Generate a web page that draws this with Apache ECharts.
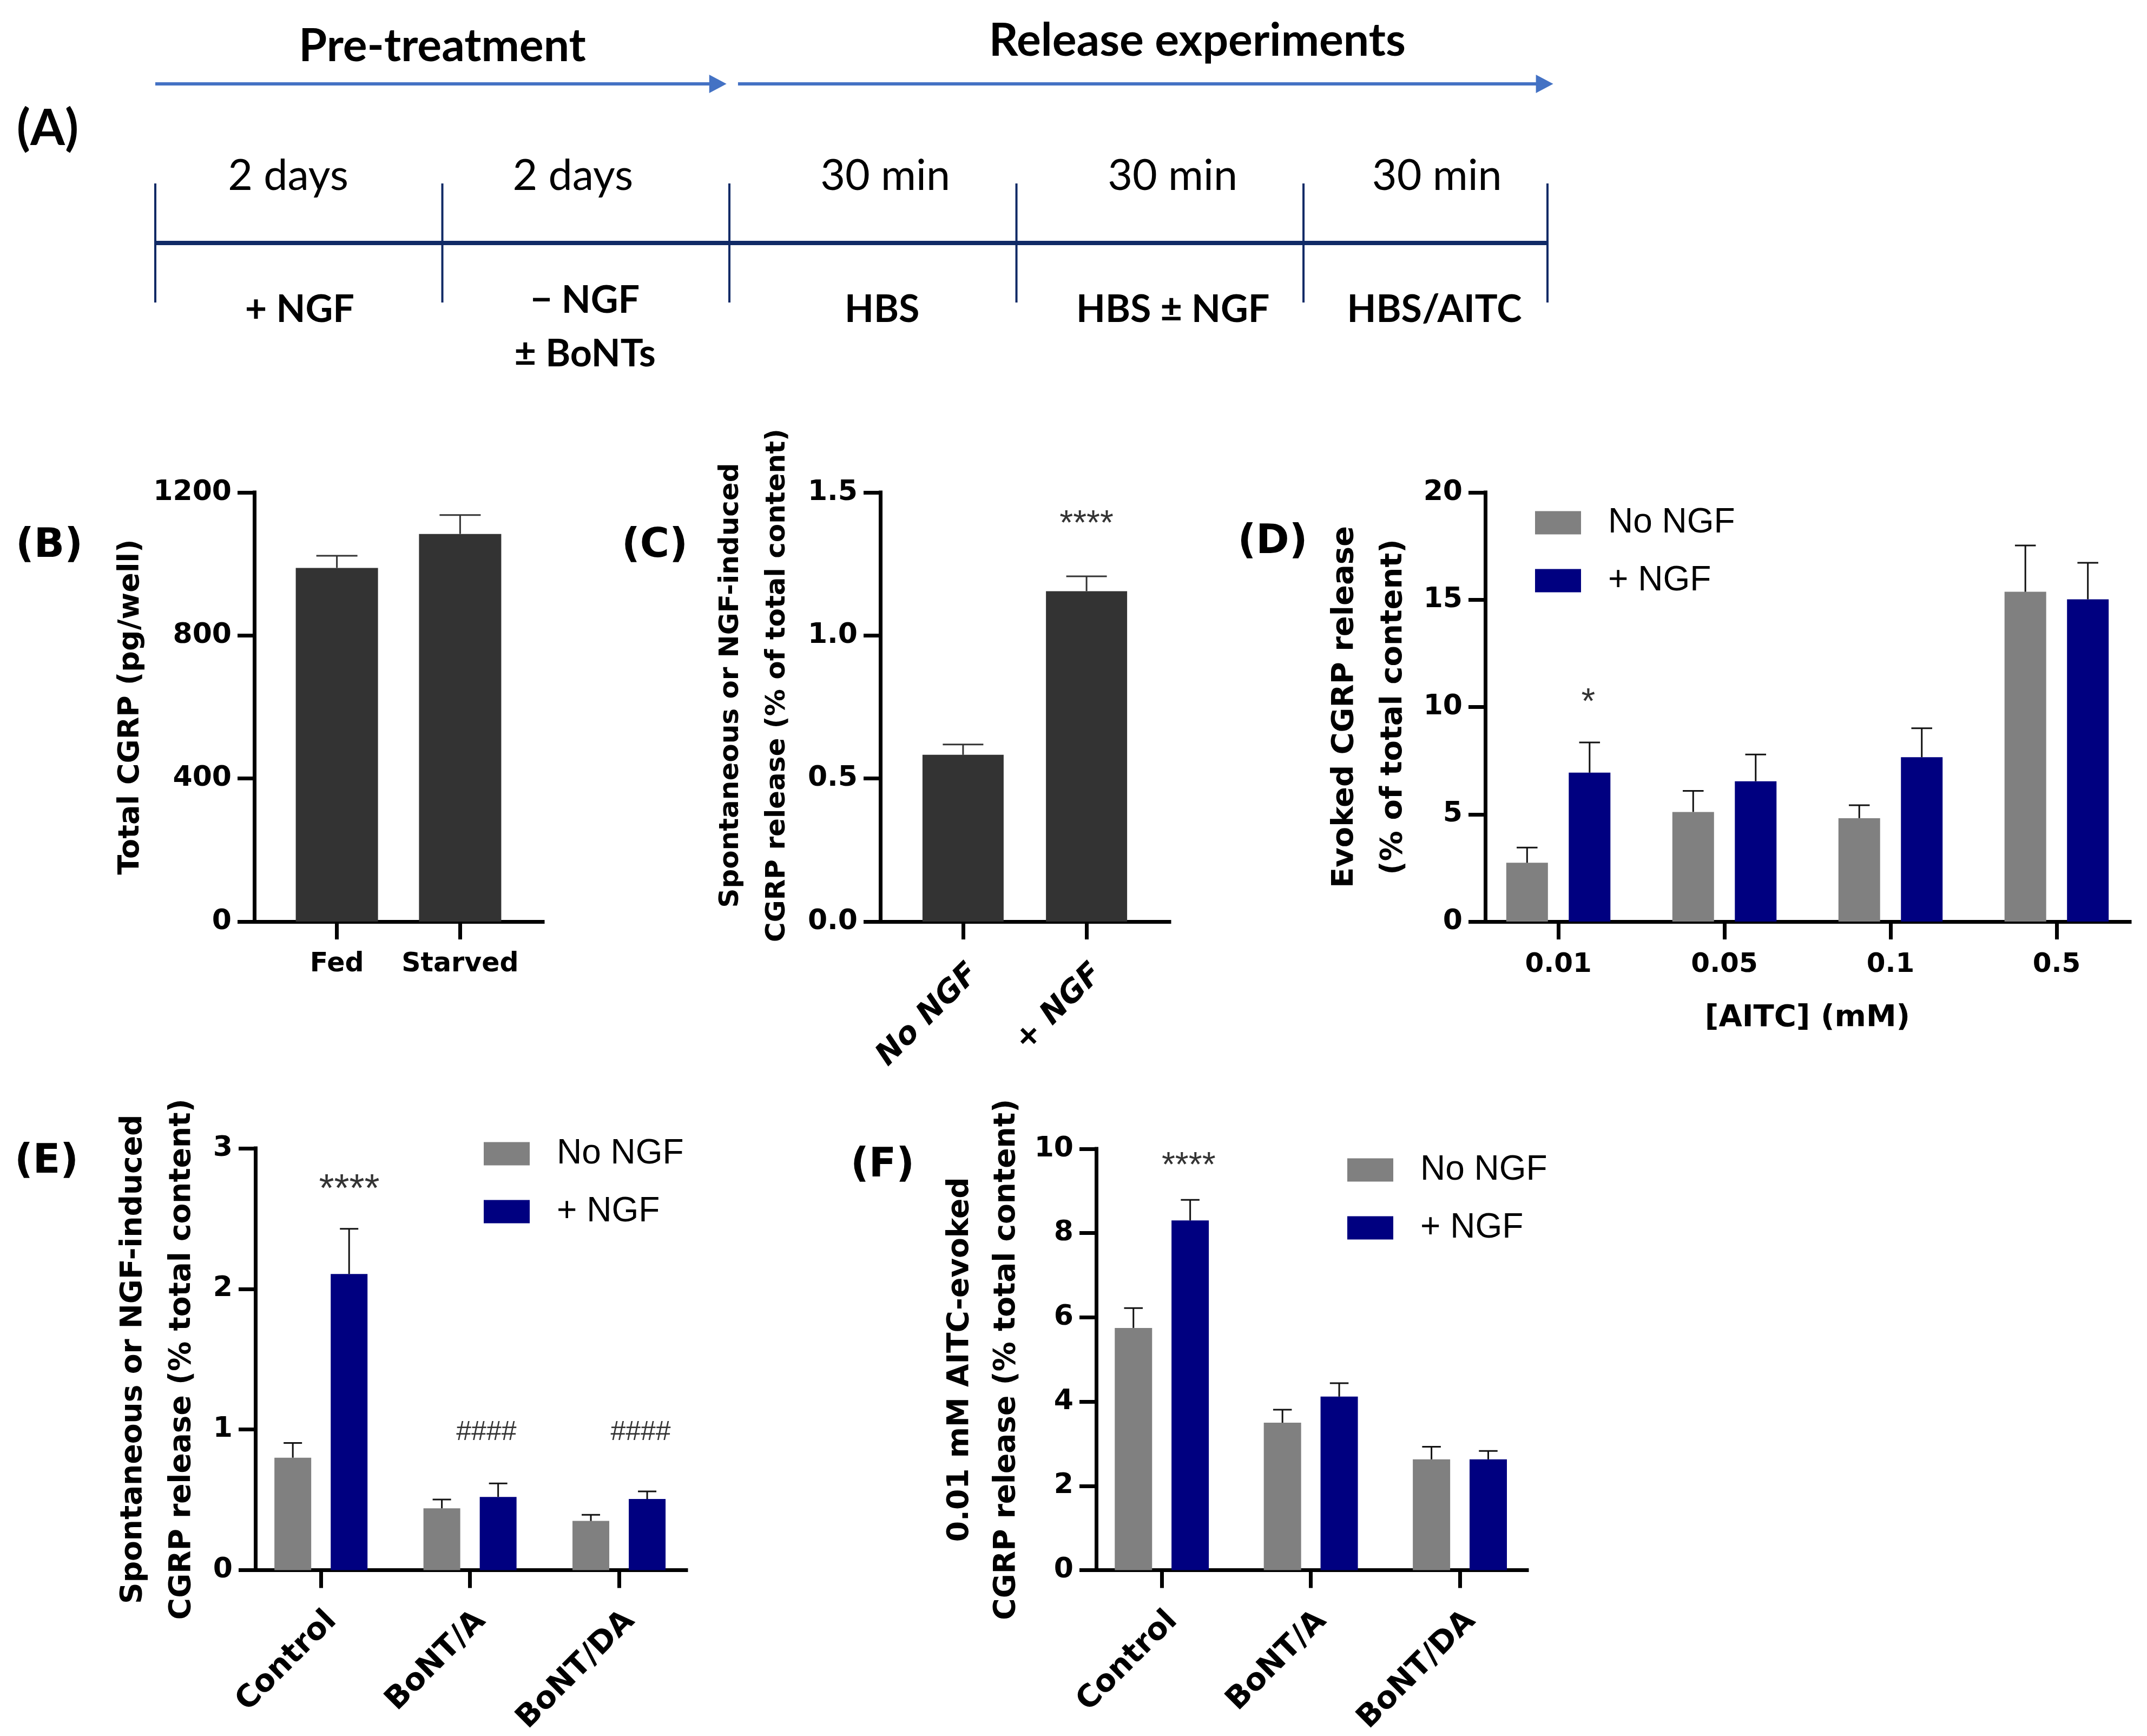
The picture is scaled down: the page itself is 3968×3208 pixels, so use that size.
<!DOCTYPE html>
<html>
<head>
<meta charset="utf-8">
<script src="https://cdn.jsdelivr.net/npm/echarts@6/dist/echarts.min.js"></script>
<style>
html,body{margin:0;padding:0;background:#ffffff;}
#chart{width:3968px;height:3208px;}
</style>
</head>
<body>
<div id="chart"></div>
<script>
// ---------------- Panel A (timeline schematic) ----------------
const phaseNames = ['Pre-treatment', 'Release experiments'];
const phaseStart = [0, 2.03];
const phaseEnd = [1.99, 4.87];
const phaseLabelAt = [1.0, 3.63];
const timelineTicks = [0, 1, 2, 3, 4, 4.85];
const durations = ['2 days', '2 days', '30 min', '30 min', '30 min'];
const durationAt = [0.463, 1.455, 2.543, 3.544, 4.465];
const treatments = ['+ NGF', '\u2212 NGF\n\u00b1 BoNTs', 'HBS', 'HBS \u00b1 NGF', 'HBS/AITC'];
const treatmentAt = [0.503, 1.497, 2.532, 3.545, 4.456];

// ---------------- Panel B ----------------
const bCategories = ['Fed', 'Starved'];
const bMean = [989, 1084];
const bSem = [34, 53];
const bYTicks = [0, 400, 800, 1200];

// ---------------- Panel C ----------------
const cCategories = ['No NGF', '+ NGF'];
const cMean = [0.583, 1.155];
const cSem = [0.036, 0.052];
const cYTicks = [0, 0.5, 1.0, 1.5];
const cSig = [{ x: 1, y: 1.385, text: '****' }];

// ---------------- Panel D ----------------
const dCategories = ['0.01', '0.05', '0.1', '0.5'];
const dNoNGF = [2.74, 5.11, 4.82, 15.37];
const dNoNGFSem = [0.71, 0.98, 0.60, 2.16];
const dNGF = [6.94, 6.54, 7.66, 15.02];
const dNGFSem = [1.41, 1.25, 1.35, 1.70];
const dYTicks = [0, 5, 10, 15, 20];
const dSig = [{ x: 0.18, y: 10.18, text: '*' }];

// ---------------- Panel E ----------------
const eCategories = ['Control', 'BoNT/A', 'BoNT/DA'];
const eNoNGF = [0.80, 0.44, 0.35];
const eNoNGFSem = [0.105, 0.062, 0.044];
const eNGF = [2.106, 0.521, 0.506];
const eNGFSem = [0.322, 0.096, 0.054];
const eYTicks = [0, 1, 2, 3];
const eSig = [
  { x: 0.19, y: 2.70, text: '****' },
  { x: 1.11, y: 0.98, text: '####' },
  { x: 2.145, y: 0.98, text: '####' }
];

// ---------------- Panel F ----------------
const fCategories = ['Control', 'BoNT/A', 'BoNT/DA'];
const fNoNGF = [5.75, 3.50, 2.63];
const fNoNGFSem = [0.47, 0.31, 0.30];
const fNGF = [8.30, 4.12, 2.63];
const fNGFSem = [0.49, 0.32, 0.20];
const fYTicks = [0, 2, 4, 6, 8, 10];
const fSig = [{ x: 0.18, y: 9.57, text: '****' }];

const legendNames = ['No NGF', '+ NGF'];

// ---------------- styles ----------------
const FONT_B = '"DejaVu Sans", "Liberation Sans", Arial, sans-serif';
const FONT_R = '"Liberation Sans", Arial, sans-serif';
const FONT_A = 'Lato, "Open Sans", sans-serif';
const GRAY = '#808080';
const NAVY = '#000080';
const DARK = '#333333';
const BLUE = '#4472c4';
const TLINE = '#102a66';

const grids = [], xAxes = [], yAxes = [], series = [], legends = [];

function addPanel(p) {
  const gi = grids.length;
  grids.push({ left: p.left, top: p.top, width: p.width, height: p.height });
  const catIdx = p.cats.map((_, i) => i);
  const xAxis = {
    gridIndex: gi, type: 'value', min: p.xMin, max: p.xMax,
    axisLine: { show: true, onZero: false, lineStyle: { color: '#000', width: 7, cap: 'square' } },
    axisTick: { show: true, length: 33, customValues: catIdx, lineStyle: { color: '#000', width: 7 } },
    axisLabel: {
      show: true, customValues: catIdx,
      formatter: v => { const c = p.cats[Math.round(v)]; return c === undefined ? '' : c; },
      rotate: p.rotate || 0, margin: p.labelMargin, color: '#000',
      fontFamily: FONT_B, fontWeight: 'bold', fontStyle: p.italic ? 'italic' : 'normal', fontSize: p.catFont
    },
    splitLine: { show: false }
  };
  if (p.rotate) { xAxis.axisLabel.verticalAlign = 'top'; xAxis.axisLabel.align = 'right'; }
  if (p.xName) {
    xAxis.name = p.xName; xAxis.nameLocation = 'middle'; xAxis.nameGap = p.xNameGap;
    xAxis.nameTextStyle = { color: '#000', fontFamily: FONT_B, fontWeight: 'bold', fontSize: 56, lineHeight: 56 };
  }
  xAxes.push(xAxis);
  yAxes.push({
    gridIndex: gi, type: 'value', min: p.yTicks[0], max: p.yTicks[p.yTicks.length - 1],
    interval: p.yTicks[1] - p.yTicks[0],
    axisLine: { show: true, onZero: false, lineStyle: { color: '#000', width: 7, cap: 'square' } },
    axisTick: { show: true, length: 31, lineStyle: { color: '#000', width: 7 } },
    axisLabel: { margin: 42, color: '#000', fontFamily: FONT_B, fontWeight: 'bold', fontSize: 52, formatter: p.yFmt },
    splitLine: { show: false },
    name: p.yName, nameLocation: 'middle', nameRotate: 90, nameGap: p.yNameGap,
    nameTextStyle: {
      color: '#000', fontFamily: FONT_B, fontWeight: 'bold', fontSize: p.yNameFont,
      lineHeight: p.yNameLH, padding: p.yNamePad || 0, align: 'center'
    }
  });
  const n = p.groups.length;
  const gapPx = p.barWidth * p.gapFrac;
  p.groups.forEach((g, k) => {
    series.push({
      type: 'bar', name: g.name, xAxisIndex: gi, yAxisIndex: gi,
      barWidth: p.barWidth, barGap: (p.gapFrac * 100) + '%',
      data: g.mean.map((v, i) => [i, v]),
      itemStyle: { color: g.color }, z: 2, silent: true
    });
    const off = n === 1 ? 0 : (k === 0 ? -1 : 1) * (p.barWidth + gapPx) / 2;
    const cap = p.barWidth / 4;
    series.push({
      type: 'custom', xAxisIndex: gi, yAxisIndex: gi, z: 3, silent: true,
      data: g.mean.map((v, i) => [i, v, v + g.sem[i]]),
      encode: { x: 0, y: 1 },
      renderItem: (params, api) => {
        const b = api.coord([api.value(0), api.value(1)]);
        const t = api.coord([api.value(0), api.value(2)]);
        const x = b[0] + off;
        return {
          type: 'group', children: [
            { type: 'line', shape: { x1: x, y1: b[1], x2: x, y2: t[1] }, style: { stroke: p.ebColor, lineWidth: 3 } },
            { type: 'line', shape: { x1: x - cap, y1: t[1], x2: x + cap, y2: t[1] }, style: { stroke: p.ebColor, lineWidth: 3 } }
          ]
        };
      }
    });
  });
  if (p.sig && p.sig.length) {
    series.push({
      type: 'scatter', xAxisIndex: gi, yAxisIndex: gi, z: 5, silent: true,
      symbolSize: 1, itemStyle: { color: 'rgba(0,0,0,0)' },
      data: p.sig.map(s => ({
        name: s.text, value: [s.x, s.y],
        label: { fontSize: s.text.charAt(0) === '#' ? 50 : p.sigFont }
      })),
      label: { show: true, position: 'inside', formatter: '{b}', color: '#000', fontFamily: FONT_R }
    });
  }
  if (p.legend) {
    legends.push({
      left: p.legend.left, top: p.legend.top, orient: 'vertical', padding: 0,
      itemWidth: 85, itemHeight: 43, itemGap: 43, icon: 'rect', selectedMode: false,
      data: legendNames,
      textStyle: { fontFamily: FONT_R, fontSize: 64, color: '#000', padding: [0, 0, 0, 45] }
    });
  }
}

addPanel({
  left: 470, top: 910, width: 533, height: 793, xMin: -0.67, xMax: 1.67,
  cats: bCategories, catFont: 49, labelMargin: 55,
  yTicks: bYTicks, yFmt: v => String(v),
  yName: 'Total CGRP (pg/well)', yNameFont: 54, yNameLH: 60, yNameGap: 198,
  barWidth: 152, gapFrac: 0, ebColor: DARK,
  groups: [{ name: 'Total', color: DARK, mean: bMean, sem: bSem }]
});

addPanel({
  left: 1627, top: 910, width: 534, height: 793, xMin: -0.67, xMax: 1.67,
  cats: cCategories, catFont: 57, labelMargin: 68, rotate: 45, italic: true,
  yTicks: cYTicks, yFmt: v => v.toFixed(1),
  yName: 'Spontaneous or NGF-induced\nCGRP release (% of total content)',
  yNameFont: 50, yNameLH: 86, yNameGap: 147, yNamePad: [0, 0, 0, 80],
  barWidth: 150, gapFrac: 0, ebColor: DARK,
  groups: [{ name: 'Spont', color: DARK, mean: cMean, sem: cSem }],
  sig: cSig, sigFont: 64
});

addPanel({
  left: 2745, top: 910, width: 1191, height: 793, xMin: -0.44, xMax: 3.44,
  cats: dCategories, catFont: 50, labelMargin: 55,
  xName: '[AITC] (mM)', xNameGap: 150,
  yTicks: dYTicks, yFmt: v => String(v),
  yName: 'Evoked CGRP release\n(% of total content)', yNameFont: 56, yNameLH: 90, yNameGap: 125,
  barWidth: 77, gapFrac: 0.5, ebColor: '#111111',
  groups: [
    { name: 'No NGF', color: GRAY, mean: dNoNGF, sem: dNoNGFSem },
    { name: '+ NGF', color: NAVY, mean: dNGF, sem: dNGFSem }
  ],
  sig: dSig, sigFont: 66, legend: { left: 2837, top: 934 }
});

addPanel({
  left: 472, top: 2122, width: 796, height: 791, xMin: -0.44, xMax: 2.45,
  cats: eCategories, catFont: 57, labelMargin: 65, rotate: 45,
  yTicks: eYTicks, yFmt: v => String(v),
  yName: 'Spontaneous or NGF-induced\nCGRP release (% total content)', yNameFont: 55, yNameLH: 90, yNameGap: 90,
  barWidth: 68, gapFrac: 0.53, ebColor: '#111111',
  groups: [
    { name: 'No NGF', color: GRAY, mean: eNoNGF, sem: eNoNGFSem },
    { name: '+ NGF', color: NAVY, mean: eNGF, sem: eNGFSem }
  ],
  sig: eSig, sigFont: 72, legend: { left: 894, top: 2100 }
});

addPanel({
  left: 2026, top: 2123, width: 796, height: 791, xMin: -0.44, xMax: 2.45,
  cats: fCategories, catFont: 57, labelMargin: 65, rotate: 45,
  yTicks: fYTicks, yFmt: v => String(v),
  yName: '0.01 mM AITC-evoked\nCGRP release (% total content)', yNameFont: 55, yNameLH: 86, yNameGap: 122,
  barWidth: 69, gapFrac: 0.52, ebColor: '#111111',
  groups: [
    { name: 'No NGF', color: GRAY, mean: fNoNGF, sem: fNoNGFSem },
    { name: '+ NGF', color: NAVY, mean: fNGF, sem: fNGFSem }
  ],
  sig: fSig, sigFont: 64, legend: { left: 2490, top: 2130 }
});

// ---------------- Panel A grid (schematic) ----------------
const aGi = grids.length;
grids.push({ left: 287, top: 0, width: 2573, height: 700 });
xAxes.push({ gridIndex: aGi, type: 'value', min: 0, max: timelineTicks[timelineTicks.length - 1], show: false });
yAxes.push({ gridIndex: aGi, type: 'value', min: 0, max: 700, inverse: true, show: false });

const PHASE_TITLE_Y = [86, 76];
const ARROW_Y = 155, DURATION_Y = 326, LINE_Y = 449, TICK_TOP = 339, TICK_BOTTOM = 559;
const TREAT_Y = 572, TREAT_LH = 99;

function txt(x, y, text, font, lh) {
  const st = { text: text, fill: '#000', font: font, align: 'center', verticalAlign: 'middle',
               textAlign: 'center', textVerticalAlign: 'middle' };
  if (lh) st.lineHeight = lh;
  return { type: 'text', x: x, y: y, style: st };
}

series.push({
  type: 'custom', xAxisIndex: aGi, yAxisIndex: aGi, silent: true, clip: false,
  data: phaseNames.map((_, i) => [phaseStart[i], ARROW_Y]),
  renderItem: (params, api) => {
    const i = params.dataIndex;
    const s = api.coord([phaseStart[i], ARROW_Y]);
    const e = api.coord([phaseEnd[i], ARROW_Y]);
    const t = api.coord([phaseLabelAt[i], PHASE_TITLE_Y[i]]);
    return {
      type: 'group', children: [
        { type: 'line', shape: { x1: s[0], y1: s[1], x2: e[0] - 26, y2: e[1] }, style: { stroke: BLUE, lineWidth: 6 } },
        { type: 'polygon', shape: { points: [[e[0] - 32, e[1] - 17], [e[0], e[1]], [e[0] - 32, e[1] + 17]] }, style: { fill: BLUE } },
        txt(t[0], t[1], phaseNames[i], 'bold 84px ' + FONT_A)
      ]
    };
  }
});

series.push({
  type: 'custom', xAxisIndex: aGi, yAxisIndex: aGi, silent: true, clip: false,
  data: [[0, LINE_Y]],
  renderItem: (params, api) => {
    const a = api.coord([timelineTicks[0], LINE_Y]);
    const b = api.coord([timelineTicks[timelineTicks.length - 1], LINE_Y]);
    const children = [
      { type: 'line', shape: { x1: a[0], y1: a[1], x2: b[0], y2: b[1] }, style: { stroke: TLINE, lineWidth: 8 } }
    ];
    timelineTicks.forEach(t => {
      const p1 = api.coord([t, TICK_TOP]);
      const p2 = api.coord([t, TICK_BOTTOM]);
      children.push({ type: 'line', shape: { x1: p1[0], y1: p1[1], x2: p2[0], y2: p2[1] }, style: { stroke: TLINE, lineWidth: 4 } });
    });
    return { type: 'group', children: children };
  }
});

series.push({
  type: 'custom', xAxisIndex: aGi, yAxisIndex: aGi, silent: true, clip: false,
  data: durations.map((_, i) => [durationAt[i], DURATION_Y]),
  renderItem: (params, api) => {
    const i = params.dataIndex;
    const d = api.coord([durationAt[i], DURATION_Y]);
    const nLines = treatments[i].split('\n').length;
    const tr = api.coord([treatmentAt[i], TREAT_Y + (nLines - 1) * TREAT_LH / 3]);
    return {
      type: 'group', children: [
        txt(d[0], d[1], durations[i], 'normal 79px ' + FONT_A),
        txt(tr[0], tr[1], treatments[i], 'bold 70px ' + FONT_A, TREAT_LH)
      ]
    };
  }
});

// ---------------- panel letters ----------------
function letter(t, x, y, font) {
  return { type: 'text', x: x, y: y, style: { text: t, fill: '#000', font: font,
    align: 'center', verticalAlign: 'middle', textAlign: 'center', textVerticalAlign: 'middle' } };
}
const LF = 'bold 74px ' + FONT_B;
const letters = [
  letter('(A)', 88, 238, 'bold 92px ' + FONT_A),
  letter('(B)', 91, 1010, LF),
  letter('(C)', 1210, 1010, LF),
  letter('(D)', 2352, 1003, LF),
  letter('(E)', 86, 2148, LF),
  letter('(F)', 1631, 2155, LF)
];

const chart = echarts.init(document.getElementById('chart'), null, { renderer: 'canvas' });
chart.setOption({
  animation: false,
  backgroundColor: '#ffffff',
  grid: grids,
  xAxis: xAxes,
  yAxis: yAxes,
  legend: legends,
  series: series,
  graphic: { elements: letters }
});
</script>
</body>
</html>
